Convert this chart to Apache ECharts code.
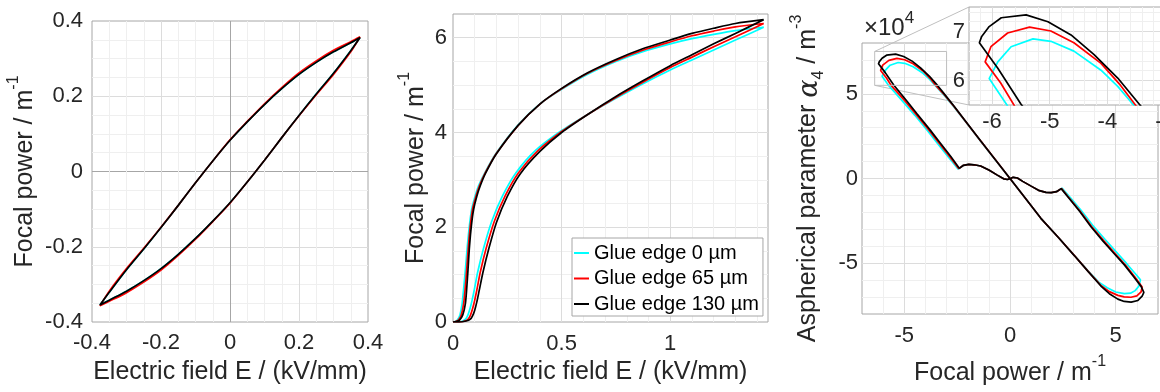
<!DOCTYPE html>
<html>
<head>
<meta charset="utf-8">
<title>Focal power and aspherical parameter</title>
<script src="https://cdn.jsdelivr.net/npm/echarts@6.0.0/dist/echarts.min.js"></script>
<style>
  html, body { margin: 0; padding: 0; background: #fff; }
  #chart { width: 1160px; height: 392px; }
</style>
</head>
<body>
<div id="chart"></div>
<script>
// series names + colours (cyan, red, black)
const glueNames = ['Glue edge 0 µm', 'Glue edge 65 µm', 'Glue edge 130 µm']
const glueColors = ['#00ffff', '#ff0000', '#000000']

// left panel: bipolar loop, focal power vs field (falling branch, then rising branch)
const e1 = [0.377, 0.35, 0.3, 0.25, 0.2, 0.15, 0.1, 0.05, 0, -0.05, -0.1, -0.15, -0.2, -0.25, -0.3, -0.35, -0.377,
    -0.35, -0.3, -0.25, -0.2, -0.15, -0.1, -0.05, 0, 0.05, 0.1, 0.15, 0.2, 0.25, 0.3, 0.35, 0.377]
const p1Cyan = [0.356, 0.342, 0.318, 0.290, 0.258, 0.220, 0.178, 0.132, 0.083, 0.028, -0.030, -0.090, -0.149, -0.206, -0.261, -0.321, -0.355,
    -0.342, -0.318, -0.290, -0.258, -0.220, -0.178, -0.132, -0.083, -0.028, 0.030, 0.090, 0.149, 0.206, 0.261, 0.321, 0.356]
const p1Red = [0.358, 0.345, 0.322, 0.294, 0.262, 0.223, 0.180, 0.133, 0.084, 0.028, -0.030, -0.090, -0.148, -0.204, -0.258, -0.318, -0.357,
    -0.345, -0.322, -0.294, -0.262, -0.223, -0.180, -0.133, -0.084, -0.028, 0.030, 0.090, 0.148, 0.204, 0.258, 0.318, 0.358]
const p1Black = [0.356, 0.342, 0.318, 0.290, 0.258, 0.220, 0.178, 0.132, 0.083, 0.028, -0.030, -0.090, -0.149, -0.206, -0.261, -0.321, -0.355,
    -0.342, -0.318, -0.290, -0.258, -0.220, -0.178, -0.132, -0.083, -0.028, 0.030, 0.090, 0.149, 0.206, 0.261, 0.321, 0.356]

// middle panel: unipolar loop, [field, focal power], rising branch then falling branch
const p2Cyan = [[0, 0], [0.03, 0], [0.045, 0.02], [0.058, 0.06], [0.068, 0.14], [0.078, 0.28], [0.088, 0.46], [0.098, 0.68],
    [0.114, 1.06], [0.141, 1.56], [0.178, 2.12], [0.228, 2.66], [0.29, 3.15], [0.38, 3.62], [0.5, 4.04], [0.62, 4.38],
    [0.75, 4.72], [0.87, 5.02], [1.0, 5.32], [1.1, 5.53], [1.2, 5.74], [1.3, 5.95], [1.43, 6.22],
    [1.3, 6.15], [1.2, 6.07], [1.1, 5.98], [1.0, 5.87], [0.87, 5.7], [0.75, 5.5], [0.62, 5.23], [0.5, 4.91],
    [0.4, 4.6], [0.3, 4.16], [0.2, 3.57], [0.15, 3.18], [0.118, 2.88], [0.102, 2.66], [0.086, 2.38], [0.076, 2.05],
    [0.066, 1.6], [0.057, 1.1], [0.049, 0.7], [0.042, 0.39], [0.032, 0.15], [0.02, 0.04], [0.01, 0.01], [0, 0]]
const p2Red = [[0, 0], [0.03, 0], [0.055, 0.02], [0.07, 0.06], [0.08, 0.14], [0.09, 0.28], [0.1, 0.46], [0.11, 0.68],
    [0.126, 1.06], [0.153, 1.56], [0.19, 2.12], [0.24, 2.66], [0.3, 3.14], [0.39, 3.61], [0.5, 4.02], [0.62, 4.38],
    [0.75, 4.74], [0.87, 5.05], [1.0, 5.37], [1.1, 5.59], [1.2, 5.81], [1.3, 6.02], [1.43, 6.3],
    [1.3, 6.23], [1.2, 6.14], [1.1, 6.04], [1.0, 5.91], [0.87, 5.73], [0.75, 5.52], [0.62, 5.25], [0.5, 4.92],
    [0.4, 4.6], [0.3, 4.15], [0.2, 3.56], [0.15, 3.16], [0.122, 2.88], [0.106, 2.66], [0.09, 2.38], [0.08, 2.05],
    [0.071, 1.6], [0.063, 1.1], [0.056, 0.7], [0.049, 0.39], [0.038, 0.15], [0.025, 0.04], [0.012, 0.01], [0, 0]]
const p2Black = [[0, 0], [0.03, 0], [0.06, 0.02], [0.08, 0.06], [0.09, 0.13], [0.1, 0.25], [0.11, 0.43], [0.12, 0.65],
    [0.138, 1.05], [0.165, 1.55], [0.2, 2.1], [0.25, 2.65], [0.31, 3.13], [0.4, 3.6], [0.5, 4.0], [0.62, 4.38],
    [0.75, 4.76], [0.87, 5.08], [1.0, 5.41], [1.1, 5.64], [1.2, 5.87], [1.3, 6.09], [1.43, 6.38],
    [1.3, 6.3], [1.2, 6.2], [1.1, 6.09], [1.0, 5.95], [0.87, 5.76], [0.75, 5.54], [0.62, 5.26], [0.5, 4.93],
    [0.4, 4.6], [0.3, 4.15], [0.2, 3.55], [0.15, 3.14], [0.126, 2.88], [0.11, 2.66], [0.095, 2.38], [0.085, 2.05],
    [0.076, 1.6], [0.069, 1.1], [0.063, 0.7], [0.057, 0.39], [0.045, 0.15], [0.03, 0.04], [0.015, 0.01], [0, 0]]

// right panel: alpha4 (x1e4) vs focal power, [focal power, alpha4]
const a3Cyan = [[0, 0], [-0.7, 1.11], [-1.39, 2.2], [-2.0, 3.19], [-2.66, 4.24], [-3.1, 4.89], [-3.53, 5.48], [-3.82, 5.88], [-4.11, 6.21],
    [-4.58, 6.6], [-4.98, 6.8], [-5.29, 6.85], [-5.67, 6.69], [-5.9, 6.38], [-6.05, 6.04],
    [-5.73, 5.48], [-5.0, 4.45], [-4.5, 3.73], [-3.9, 2.82], [-3.4, 2.03], [-2.9, 1.24], [-2.45, 0.55],
    [-2.2, 0.78], [-1.95, 0.83], [-1.7, 0.81], [-1.39, 0.74], [-1.0, 0.5], [-0.6, 0.2], [-0.3, -0.02], [-0.12, -0.06], [0, -0.01],
    [0.15, 0.07], [0.35, 0.03], [0.6, -0.17], [1.0, -0.45], [1.39, -0.72], [1.7, -0.82], [1.95, -0.83], [2.2, -0.78], [2.46, -0.57],
    [2.85, -1.12], [3.36, -1.88], [3.9, -2.75], [4.5, -3.6], [5.0, -4.3], [5.5, -5.0], [5.95, -5.65], [6.17, -5.98],
    [6.1, -6.35], [5.92, -6.62], [5.7, -6.77], [5.41, -6.8], [5.0, -6.7], [4.6, -6.45], [4.2, -6.12], [3.7, -5.47],
    [3.04, -4.53], [2.3, -3.5], [1.46, -2.35], [0.7, -1.12], [0, 0]]
const a3Red = [[0, 0], [-0.7, 1.12], [-1.39, 2.22], [-2.0, 3.2], [-2.66, 4.27], [-3.1, 4.93], [-3.5, 5.48], [-3.77, 5.9], [-4.11, 6.35],
    [-4.58, 6.77], [-4.98, 7.01], [-5.35, 7.09], [-5.73, 6.97], [-6.02, 6.69], [-6.12, 6.38],
    [-5.85, 5.95], [-5.61, 5.48], [-4.95, 4.55], [-4.45, 3.8], [-3.85, 2.88], [-3.35, 2.08], [-2.85, 1.28], [-2.42, 0.58],
    [-2.2, 0.78], [-1.95, 0.83], [-1.7, 0.81], [-1.39, 0.74], [-1.0, 0.5], [-0.6, 0.2], [-0.3, -0.02], [-0.12, -0.06], [0, -0.01],
    [0.15, 0.07], [0.35, 0.03], [0.6, -0.17], [1.0, -0.45], [1.39, -0.72], [1.7, -0.82], [1.95, -0.83], [2.2, -0.78], [2.44, -0.59],
    [2.82, -1.18], [3.33, -1.95], [3.87, -2.85], [4.45, -3.7], [4.95, -4.4], [5.45, -5.1], [5.9, -5.8], [6.25, -6.4],
    [6.2, -6.7], [6.0, -6.93], [5.72, -7.01], [5.4, -6.99], [5.1, -6.9], [4.7, -6.68], [4.3, -6.31], [3.7, -5.48],
    [3.04, -4.54], [2.3, -3.5], [1.46, -2.35], [0.7, -1.12], [0, 0]]
const a3Black = [[0, 0], [-0.7, 1.12], [-1.39, 2.23], [-2.0, 3.22], [-2.66, 4.3], [-3.1, 4.98], [-3.42, 5.48], [-3.82, 6.05], [-4.23, 6.53],
    [-4.63, 6.93], [-5.03, 7.2], [-5.41, 7.34], [-5.84, 7.28], [-6.05, 7.1], [-6.18, 6.9], [-6.22, 6.77],
    [-5.9, 6.25], [-5.5, 5.52], [-4.9, 4.6], [-4.4, 3.82], [-3.8, 2.9], [-3.3, 2.1], [-2.8, 1.3], [-2.4, 0.6],
    [-2.2, 0.78], [-1.95, 0.83], [-1.7, 0.81], [-1.39, 0.74], [-1.0, 0.5], [-0.6, 0.2], [-0.3, -0.02], [-0.12, -0.06], [0, -0.01],
    [0.15, 0.07], [0.35, 0.03], [0.6, -0.17], [1.0, -0.45], [1.39, -0.72], [1.7, -0.82], [1.95, -0.83], [2.2, -0.78], [2.42, -0.6],
    [2.8, -1.18], [3.3, -1.95], [3.83, -2.85], [4.4, -3.7], [4.9, -4.4], [5.41, -5.1], [5.85, -5.8], [6.2, -6.37], [6.33, -6.72],
    [6.25, -6.95], [6.05, -7.2], [5.73, -7.3], [5.4, -7.26], [5.1, -7.12], [4.7, -6.8], [4.3, -6.35], [3.7, -5.5],
    [3.04, -4.55], [2.3, -3.5], [1.46, -2.35], [0.7, -1.12], [0, 0]]

// zoomed window shown in the inset
const zoomX = [-6.4, -3]
const zoomY = [5.5, 7.5]

const FONT = '"Liberation Sans", Arial, Helvetica, sans-serif'
const INK = '#262626'
const BOX = '#a6a6a6'
const MAJOR = '#dcdcdc'
const MINOR = '#efefef'
const NONE = 'rgba(0,0,0,0)'

function zip(xs, ys) {
    return xs.map((x, i) => [x, ys[i]])
}

function isMult(v, step) {
    const r = v / step
    return Math.abs(r - Math.round(r)) < 1e-6
}

// one colour per split line (min..max by step), edges left to the box
function gridColors(min, max, step, major, minor, zeroColor) {
    const out = []
    const n = Math.floor((max - min) / step + 1e-6)
    for (let i = 0; i <= n; i++) {
        const v = min + i * step
        if (i === 0 || Math.abs(v - max) < 1e-9) out.push(NONE)
        else if (zeroColor && Math.abs(v) < 1e-9) out.push(zeroColor)
        else if (isMult(v, major)) out.push(MAJOR)
        else if (minor && isMult(v, minor)) out.push(MINOR)
        else out.push(NONE)
    }
    if (min + n * step < max - 1e-6) out.push(NONE)
    return out
}

const supStyle = { fontSize: 16, fontFamily: FONT, color: INK, height: 8, verticalAlign: 'top' }
const nameStyle = {
    fontSize: 25, fontFamily: FONT, color: INK, lineHeight: 30,
    rich: {
        s: supStyle,
        a: { fontSize: 27, fontFamily: '"DejaVu Serif", serif', fontStyle: 'italic', color: INK, verticalAlign: 'bottom' },
        b: { fontSize: 16, fontFamily: FONT, color: INK, height: 8, verticalAlign: 'bottom' }
    }
}

function makeAxis(o) {
    return {
        type: 'value', gridIndex: o.grid, min: o.min, max: o.max, interval: o.step, z: o.z || 0,
        axisLine: { show: false },
        axisTick: { show: false },
        splitLine: { show: true, lineStyle: { width: 1, color: gridColors(o.min, o.max, o.step, o.major, o.minor, o.zero) } },
        axisLabel: {
            show: true, margin: o.margin, fontSize: 22, fontFamily: FONT, color: INK,
            showMinLabel: true, showMaxLabel: true,
            formatter: v => isMult(v, o.major) ? String(Math.round(v * 1000) / 1000) : ''
        },
        name: o.name || '', nameLocation: 'middle', nameGap: o.gap || 0,
        nameTextStyle: nameStyle, nameMoveOverlap: false
    }
}

function lineSeries(k, axis, data, z, smooth) {
    return {
        type: 'line', name: glueNames[k], xAxisIndex: axis, yAxisIndex: axis,
        data: data, symbol: 'none', smooth: smooth, z: z,
        lineStyle: { color: glueColors[k], width: 1.7 },
        itemStyle: { color: glueColors[k] },
        emphasis: { disabled: true }
    }
}

const gridBase = { show: true, borderColor: BOX, borderWidth: 1, backgroundColor: NONE, containLabel: false, outerBoundsMode: 'none' }

const chart = echarts.init(document.getElementById('chart'))

const series = []
const p1 = [p1Cyan, p1Red, p1Black]
const p2 = [p2Cyan, p2Red, p2Black]
const p3 = [a3Cyan, a3Red, a3Black]
for (let k = 0; k < 3; k++) series.push(lineSeries(k, 0, zip(e1, p1[k]), 2, 0.3))
for (let k = 0; k < 3; k++) series.push(lineSeries(k, 1, p2[k], 2, 0.25))
for (let k = 0; k < 3; k++) series.push(lineSeries(k, 2, p3[k], 2, false))
for (let k = 0; k < 3; k++) series.push(lineSeries(k, 3, p3[k], 5, false))
// zoom window outline in the main axes
series.push({
    type: 'line', xAxisIndex: 2, yAxisIndex: 2, symbol: 'none', z: 2, silent: true,
    data: zip([zoomX[0], zoomX[1], zoomX[1], zoomX[0], zoomX[0]], [zoomY[0], zoomY[0], zoomY[1], zoomY[1], zoomY[0]]),
    lineStyle: { color: '#bfbfbf', width: 1 }
})

// extra y axis on the right panel that only carries the x10^4 exponent
const expAxis = {
    type: 'value', gridIndex: 2, position: 'left', offset: 0, min: -8, max: 8,
    axisLine: { show: false }, axisTick: { show: false }, axisLabel: { show: false }, splitLine: { show: false },
    name: '×10{e|4}', nameLocation: 'end', nameGap: 1, nameMoveOverlap: false,
    nameTextStyle: {
        fontSize: 24, fontFamily: FONT, color: INK, lineHeight: 28,
        align: 'left', verticalAlign: 'bottom', padding: [0, 0, 0, 2],
        rich: { e: { fontSize: 17, fontFamily: FONT, color: INK, height: 8, verticalAlign: 'top' } }
    }
}

chart.setOption({
    animation: false,
    grid: [
        Object.assign({}, gridBase, { left: 92, top: 21, width: 276, height: 301 }),
        Object.assign({}, gridBase, { left: 453, top: 14, width: 315, height: 308 }),
        Object.assign({}, gridBase, { left: 862, top: 43, width: 296, height: 271 }),
        Object.assign({}, gridBase, { left: 969, top: 7, width: 196, height: 98, backgroundColor: '#fff', z: 3 })
    ],
    xAxis: [
        makeAxis({ grid: 0, min: -0.4, max: 0.4, step: 0.05, major: 0.2, minor: 0.05, zero: BOX, margin: 10, name: 'Electric field E / (kV/mm)', gap: 35 }),
        makeAxis({ grid: 1, min: 0, max: 1.45, step: 0.1, major: 0.5, minor: 0.1, margin: 11, name: 'Electric field E / (kV/mm)', gap: 35 }),
        makeAxis({ grid: 2, min: -7, max: 7, step: 1, major: 5, minor: 1, margin: 11, name: 'Focal power / m{s|-1}', gap: 44 }),
        makeAxis({ grid: 3, min: zoomX[0], max: zoomX[1], step: 0.2, major: 1, minor: 0.2, margin: 6, z: 4 })
    ],
    yAxis: [
        makeAxis({ grid: 0, min: -0.4, max: 0.4, step: 0.05, major: 0.2, minor: 0.05, zero: BOX, margin: 9, name: 'Focal power / m{s|-1}', gap: 52 }),
        makeAxis({ grid: 1, min: 0, max: 6.5, step: 0.5, major: 2, minor: 0.5, margin: 6, name: 'Focal power / m{s|-1}', gap: 22 }),
        makeAxis({ grid: 2, min: -8, max: 8, step: 1, major: 5, minor: 1, margin: 4, name: 'Aspherical parameter {a|α}{b|4} / m{s|-3}', gap: 39 }),
        makeAxis({ grid: 3, min: zoomY[0], max: zoomY[1], step: 0.1, major: 1, minor: 0.2, margin: 4, z: 4 }),
        expAxis
    ],
    legend: {
        data: glueNames, orient: 'vertical', left: 572, top: 238,
        icon: 'rect', itemWidth: 15, itemHeight: 2, itemGap: 5.5,
        padding: [5, 4, 2, 2], backgroundColor: '#fff', borderColor: BOX, borderWidth: 1,
        selectedMode: false,
        textStyle: { fontSize: 20, fontFamily: FONT, color: '#000', lineHeight: 20 }
    },
    series: series
})

// connector lines between the zoom window and the inset
const tl = chart.convertToPixel({ gridIndex: 2 }, [zoomX[0], zoomY[1]])
const bl = chart.convertToPixel({ gridIndex: 2 }, [zoomX[0], zoomY[0]])
const itl = chart.convertToPixel({ gridIndex: 3 }, [zoomX[0], zoomY[1]])
const ibl = chart.convertToPixel({ gridIndex: 3 }, [zoomX[0], zoomY[0]])

chart.setOption({
    graphic: [
        { type: 'line', z: 2, silent: true, shape: { x1: tl[0], y1: tl[1], x2: itl[0], y2: itl[1] }, style: { stroke: '#bfbfbf', lineWidth: 1 } },
        { type: 'line', z: 2, silent: true, shape: { x1: bl[0], y1: bl[1], x2: ibl[0], y2: ibl[1] }, style: { stroke: '#bfbfbf', lineWidth: 1 } }
    ]
})
</script>
</body>
</html>
